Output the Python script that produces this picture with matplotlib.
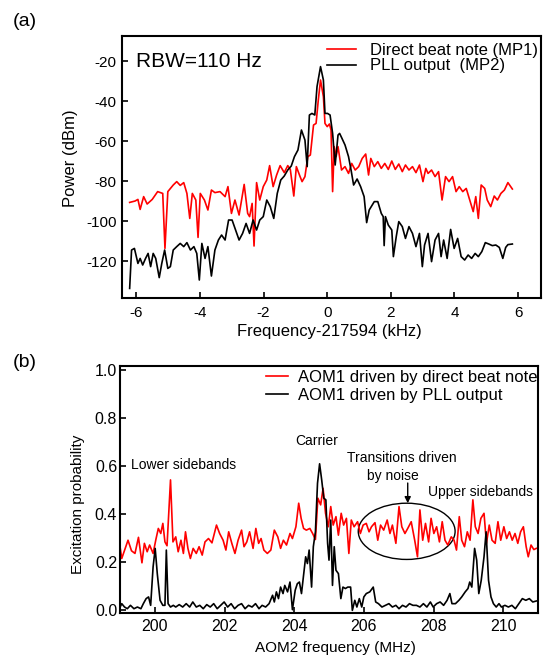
import matplotlib
matplotlib.use('Agg')
import matplotlib.pyplot as plt
from matplotlib.patches import Ellipse

plt.rcParams['font.family'] = ['Liberation Sans', 'DejaVu Sans']
plt.rcParams['axes.unicode_minus'] = False

# ---------------- Panel (a) data ----------------
red_a_f = [-6.21, -6.04, -5.95, -5.88, -5.77, -5.66, -5.50, -5.33, -5.17, -5.10, -5.01, -4.84, -4.73, -4.62,
           -4.51, -4.41, -4.32, -4.24, -4.13, -4.06, -3.99, -3.86, -3.75, -3.64, -3.53, -3.37, -3.21, -3.12,
           -3.01, -2.90, -2.77, -2.61, -2.50, -2.44, -2.36, -2.30, -2.22, -2.12, -2.01, -1.90, -1.81, -1.70,
           -1.59, -1.48, -1.35, -1.24, -1.16, -1.05, -0.97, -0.86, -0.79, -0.70, -0.61, -0.53, -0.43, -0.35,
           -0.28, -0.21, -0.12, -0.07, 0.00, 0.07, 0.12, 0.17, 0.22, 0.28, 0.34, 0.45, 0.56, 0.67, 0.77,
           0.88, 0.99, 1.10, 1.21, 1.30, 1.37, 1.48, 1.59, 1.70, 1.81, 1.92, 2.03, 2.14, 2.25, 2.36, 2.46,
           2.57, 2.68, 2.79, 2.90, 3.01, 3.10, 3.17, 3.28, 3.39, 3.50, 3.61, 3.72, 3.83, 3.94, 4.05, 4.15,
           4.26, 4.37, 4.48, 4.59, 4.67, 4.75, 4.84, 4.95, 5.03, 5.14, 5.25, 5.35, 5.46, 5.57, 5.68, 5.82]
red_a_p = [-90.7, -90.0, -89.2, -94.2, -87.8, -91.5, -89.2, -85.3, -86.2, -113.7, -85.3, -82.0, -80.3, -82.2,
           -80.8, -86.2, -98.7, -86.2, -89.5, -108.2, -86.2, -89.5, -94.5, -84.5, -85.8, -85.3, -87.8, -82.8,
           -96.2, -89.5, -97.0, -81.7, -96.2, -97.8, -91.2, -112.5, -80.8, -89.5, -82.8, -79.5, -72.3, -82.8,
           -77.0, -72.3, -75.8, -72.3, -74.2, -87.5, -72.8, -77.5, -80.3, -77.8, -67.8, -67.0, -52.0, -51.2,
           -39.5, -29.5, -37.8, -51.2, -52.8, -51.5, -54.5, -85.3, -62.8, -67.8, -62.8, -74.5, -72.8, -76.2, -71.2,
           -74.5, -72.8, -68.7, -66.5, -77.0, -68.7, -72.8, -70.3, -73.7, -71.2, -74.2, -70.0, -74.2, -71.5, -75.3, -72.0,
           -74.5, -72.8, -75.8, -72.0, -80.3, -73.7, -76.2, -74.5, -77.8, -75.3, -89.5, -77.8, -80.3, -77.8, -85.3, -82.8,
           -85.3, -83.7, -89.5, -95.3, -87.8, -98.7, -82.0, -83.7, -89.5, -92.8, -87.5, -89.5, -86.2, -84.5, -80.8, -84.0]

blk_a_f = [-6.21, -6.15, -6.06, -5.95, -5.88, -5.80, -5.71, -5.63, -5.55, -5.47, -5.39, -5.28, -5.20, -5.11,
           -5.01, -4.93, -4.84, -4.73, -4.62, -4.51, -4.41, -4.30, -4.19, -4.10, -4.02, -3.94, -3.84, -3.75,
           -3.64, -3.53, -3.42, -3.32, -3.21, -3.10, -2.99, -2.88, -2.77, -2.66, -2.55, -2.44, -2.33, -2.22,
           -2.12, -2.01, -1.90, -1.79, -1.68, -1.57, -1.46, -1.35, -1.24, -1.13, -1.03, -0.92, -0.81, -0.70,
           -0.63, -0.56, -0.48, -0.39, -0.32, -0.21, -0.12, -0.07, 0.01, 0.09, 0.17, 0.25, 0.34, 0.39, 0.45,
           0.56, 0.67, 0.75, 0.83, 0.94, 1.05, 1.16, 1.24, 1.32, 1.48, 1.59, 1.70, 1.76, 1.79, 1.83, 1.92,
           2.03, 2.08, 2.17, 2.25, 2.36, 2.46, 2.57, 2.68, 2.79, 2.90, 2.99, 3.06, 3.17, 3.28, 3.39, 3.50,
           3.58, 3.66, 3.77, 3.88, 3.99, 4.10, 4.21, 4.32, 4.43, 4.54, 4.65, 4.75, 4.86, 4.97, 5.08, 5.19,
           5.30, 5.41, 5.52, 5.61, 5.68, 5.82]
blk_a_p = [-133.7, -114.5, -113.7, -121.2, -118.7, -122.0, -118.7, -116.2, -122.8, -116.2, -118.7, -128.3, -121.2, -114.5,
           -123.7, -122.8, -114.5, -112.8, -111.2, -112.8, -110.8, -114.5, -112.8, -116.2, -129.5, -111.2, -118.7, -112.8,
           -127.5, -114.5, -109.5, -107.0, -109.5, -99.5, -99.5, -104.5, -109.5, -106.2, -101.2, -106.2, -99.5, -104.5,
           -99.5, -97.8, -89.5, -92.8, -98.7, -86.2, -79.5, -77.5, -74.5, -72.5, -67.8, -64.5, -54.5, -59.5,
           -72.8, -47.0, -46.2, -47.0, -32.8, -22.8, -29.5, -46.2, -46.2, -47.0, -56.2, -72.0, -57.0, -56.2, -58.2,
           -62.0, -67.8, -74.5, -82.0, -79.0, -82.8, -87.8, -100.8, -94.5, -90.3, -90.3, -96.2, -97.8, -112.3, -97.8, -102.0,
           -104.5, -117.8, -107.8, -100.3, -102.8, -108.7, -102.8, -106.2, -112.8, -106.2, -122.8, -112.0, -106.2, -120.3, -109.5, -106.2,
           -117.8, -109.5, -118.7, -104.2, -113.7, -108.7, -117.8, -119.5, -117.0, -118.7, -116.2, -117.8, -115.3, -110.8, -111.5, -112.3,
           -112.0, -113.2, -118.7, -113.2, -111.8, -111.5]

xticks_a = [-6, -4, -2, 0, 2, 4, 6]
yticks_a = [-120, -100, -80, -60, -40, -20]

# ---------------- Panel (b) data ----------------
red_b_f = [198.98, 199.05, 199.15, 199.23, 199.33, 199.43, 199.53, 199.63, 199.70, 199.78, 199.85, 199.95,
           200.03, 200.10, 200.17, 200.23, 200.29, 200.35, 200.45, 200.52, 200.60, 200.67, 200.75, 200.82,
           200.88, 200.95, 201.02, 201.10, 201.19, 201.27, 201.36, 201.44, 201.54, 201.64, 201.77, 201.86,
           201.96, 202.04, 202.12, 202.21, 202.30, 202.39, 202.49, 202.56, 202.64, 202.72, 202.82, 202.90,
           202.98, 203.05, 203.13, 203.23, 203.33, 203.43, 203.53, 203.61, 203.69, 203.78, 203.88, 203.95,
           204.05, 204.13, 204.20, 204.27, 204.35, 204.45, 204.53, 204.61, 204.68, 204.76, 204.83, 204.90,
           204.98, 205.05, 205.12, 205.20, 205.27, 205.35, 205.42, 205.50, 205.57, 205.64, 205.72, 205.82,
           205.90, 205.98, 206.07, 206.15, 206.22, 206.32, 206.40, 206.48, 206.57, 206.67, 206.75, 206.82,
           206.92, 207.01, 207.09, 207.18, 207.26, 207.36, 207.46, 207.54, 207.61, 207.69, 207.77, 207.86,
           207.93, 208.01, 208.09, 208.17, 208.25, 208.33, 208.41, 208.51, 208.59, 208.66, 208.74, 208.81,
           208.89, 208.97, 209.05, 209.13, 209.20, 209.28, 209.36, 209.45, 209.52, 209.60, 209.68, 209.77,
           209.85, 209.93, 210.02, 210.10, 210.18, 210.26, 210.34, 210.42, 210.50, 210.58, 210.66, 210.72,
           210.80, 210.88, 210.95]
red_b_p = [0.285, 0.216, 0.258, 0.292, 0.248, 0.237, 0.304, 0.198, 0.279, 0.244, 0.272, 0.237,
           0.295, 0.341, 0.320, 0.362, 0.285, 0.269, 0.543, 0.285, 0.306, 0.244, 0.292, 0.237,
           0.327, 0.258, 0.216, 0.258, 0.237, 0.265, 0.230, 0.285, 0.299, 0.281, 0.355, 0.320,
           0.292, 0.251, 0.327, 0.279, 0.237, 0.292, 0.334, 0.265, 0.285, 0.327, 0.258, 0.341,
           0.279, 0.299, 0.251, 0.237, 0.251, 0.334, 0.306, 0.258, 0.292, 0.272, 0.320, 0.299,
           0.348, 0.446, 0.383, 0.341, 0.334, 0.341, 0.320, 0.295, 0.467, 0.439, 0.508, 0.404,
           0.348, 0.432, 0.355, 0.390, 0.313, 0.404, 0.355, 0.383, 0.237, 0.376, 0.348, 0.369,
           0.320, 0.355, 0.362, 0.327, 0.348, 0.365, 0.292, 0.355, 0.334, 0.376, 0.320, 0.355,
           0.279, 0.432, 0.348, 0.320, 0.341, 0.369, 0.292, 0.223, 0.418, 0.292, 0.362, 0.285,
           0.383, 0.320, 0.348, 0.285, 0.369, 0.292, 0.272, 0.306, 0.292, 0.251, 0.390, 0.292,
           0.265, 0.327, 0.292, 0.460, 0.348, 0.320, 0.383, 0.404, 0.279, 0.355, 0.292, 0.279,
           0.369, 0.292, 0.348, 0.299, 0.327, 0.292, 0.320, 0.279, 0.327, 0.348, 0.265, 0.223,
           0.272, 0.253, 0.258]

blk_b_f = [198.98, 199.05, 199.13, 199.21, 199.30, 199.40, 199.50, 199.60, 199.67, 199.75, 199.82, 199.88,
           199.95, 200.01, 200.07, 200.15, 200.23, 200.29, 200.33, 200.38, 200.45, 200.53, 200.60, 200.70,
           200.80, 200.90, 201.00, 201.09, 201.19, 201.29, 201.39, 201.49, 201.59, 201.69, 201.79, 201.89,
           201.99, 202.09, 202.19, 202.29, 202.39, 202.49, 202.59, 202.69, 202.79, 202.89, 202.99, 203.08,
           203.18, 203.28, 203.38, 203.43, 203.49, 203.55, 203.61, 203.68, 203.73, 203.81, 203.88, 203.95,
           204.03, 204.09, 204.15, 204.21, 204.27, 204.33, 204.38, 204.43, 204.50, 204.55, 204.61, 204.67,
           204.73, 204.79, 204.85, 204.91, 204.96, 205.00, 205.05, 205.10, 205.15, 205.20, 205.27, 205.34,
           205.40, 205.47, 205.54, 205.62, 205.67, 205.74, 205.80, 205.87, 205.94, 206.00, 206.07, 206.17,
           206.27, 206.34, 206.42, 206.52, 206.62, 206.72, 206.82, 206.92, 207.01, 207.11, 207.21, 207.31,
           207.41, 207.51, 207.61, 207.71, 207.81, 207.91, 207.99, 208.09, 208.19, 208.29, 208.39, 208.47,
           208.53, 208.63, 208.73, 208.81, 208.91, 208.99, 209.04, 209.10, 209.18, 209.24, 209.30, 209.37,
           209.45, 209.51, 209.58, 209.65, 209.72, 209.80, 209.88, 209.95, 210.05, 210.15, 210.25, 210.35,
           210.45, 210.55, 210.65, 210.75, 210.85, 210.95]
blk_b_p = [0.007, 0.028, 0.014, 0.007, 0.021, 0.007, 0.014, 0.007, 0.028, 0.049, 0.056, 0.021,
           0.181, 0.258, 0.153, 0.042, 0.021, 0.021, 0.251, 0.028, 0.014, 0.021, 0.014, 0.024,
           0.014, 0.028, 0.014, 0.035, 0.014, 0.021, 0.007, 0.024, 0.014, 0.028, 0.007, 0.021,
           0.035, 0.014, 0.028, 0.007, 0.021, 0.028, 0.007, 0.021, 0.014, 0.028, 0.007, 0.021,
           0.014, 0.028, 0.063, 0.035, 0.077, 0.049, 0.097, 0.070, 0.104, 0.077, 0.118, 0.003,
           0.084, 0.111, 0.118, 0.070, 0.146, 0.223, 0.195, 0.251, 0.097, 0.265, 0.327, 0.529,
           0.610, 0.543, 0.467, 0.460, 0.279, 0.209, 0.376, 0.104, 0.265, 0.167, 0.153, 0.049,
           0.097, 0.091, 0.097, 0.097, 0.000, 0.042, 0.014, 0.049, 0.014, 0.056, 0.070, 0.077,
           0.097, 0.035, 0.028, 0.014, 0.021, 0.028, 0.014, 0.021, 0.007, 0.021, 0.014, 0.028,
           0.021, 0.021, 0.014, 0.028, 0.014, 0.035, 0.014, 0.028, 0.035, 0.021, 0.042, 0.070,
           0.028, 0.028, 0.042, 0.056, 0.077, 0.091, 0.118, 0.097, 0.258, 0.209, 0.070, 0.125,
           0.223, 0.327, 0.125, 0.056, 0.028, 0.014, 0.028, 0.014, 0.021, 0.014, 0.021, 0.007,
           0.028, 0.049, 0.042, 0.049, 0.035, 0.039]

xticks_b = [200, 202, 204, 206, 208, 210]
yticks_b = [0.0, 0.2, 0.4, 0.6, 0.8, 1.0]

RED = '#ff0000'

fig = plt.figure(figsize=(5.43, 6.56), dpi=100)
axa = fig.add_axes([0.2247, 0.5457, 0.7716, 0.3994])
axb = fig.add_axes([0.2210, 0.0655, 0.7698, 0.3766])

for ax in (axa, axb):
    for s in ax.spines.values():
        s.set_linewidth(1.5)

# ---- Panel (a)
axa.plot(red_a_f, red_a_p, color=RED, lw=1.2, label='Direct beat note (MP1)')
axa.plot(blk_a_f, blk_a_p, color='black', lw=1.2, label='PLL output  (MP2)')
axa.set_xlim(-6.45, 6.72)
axa.set_ylim(-138.5, -7.5)
axa.set_xticks(xticks_a)
axa.set_yticks(yticks_a)
axa.tick_params(direction='in', length=4, width=1.2, labelsize=11)
axa.tick_params(axis='x', pad=6)
axa.tick_params(axis='y', pad=4)
axa.set_xlabel('Frequency-217594 (kHz)', fontsize=12)
axa.set_ylabel('Power (dBm)', fontsize=12)
axa.xaxis.set_label_coords(0.496, -0.10)
axa.yaxis.set_label_coords(-0.105, 0.532)
axa.text(-6.0, -20, 'RBW=110 Hz', fontsize=15, va='center', ha='left')
axa.legend(loc='upper left', bbox_to_anchor=(0.49, 0.975), frameon=False, fontsize=12,
           handlelength=1.7, handletextpad=0.85, labelspacing=0.05, borderpad=0, borderaxespad=0)
fig.text(25 / 543, 1 - 21 / 656, '(a)', fontsize=14, ha='center', va='center')

# ---- Panel (b)
axb.plot(red_b_f, red_b_p, color=RED, lw=1.2, label='AOM1 driven by direct beat note')
axb.plot(blk_b_f, blk_b_p, color='black', lw=1.2, label='AOM1 driven by PLL output')
axb.set_xlim(199, 211)
axb.set_ylim(-0.011, 1.017)
axb.set_xticks(xticks_b)
axb.set_yticks(yticks_b)
axb.set_yticklabels(['0.0', '0.2', '0.4', '0.6', '0.8', '1.0'])
axb.tick_params(direction='in', length=4, width=1.2, labelsize=11.5)
axb.tick_params(axis='x', pad=4)
axb.tick_params(axis='y', pad=2)
axb.set_xlabel('AOM2 frequency (MHz)', fontsize=11)
axb.set_ylabel('Excitation probability', fontsize=11)
axb.xaxis.set_label_coords(0.516, -0.113)
axb.yaxis.set_label_coords(-0.084, 0.44)
axb.legend(loc='upper left', bbox_to_anchor=(0.349, 0.985), frameon=False, fontsize=12,
           handlelength=1.3, handletextpad=0.65, labelspacing=0.2, borderpad=0, borderaxespad=0)

axb.text(199.32, 0.603, 'Lower sidebands', fontsize=10, ha='left', va='center')
axb.text(204.66, 0.706, 'Carrier', fontsize=10, ha='center', va='center')
axb.text(207.08, 0.634, 'Transitions driven', fontsize=10, ha='center', va='center')
axb.text(206.82, 0.560, 'by noise', fontsize=10, ha='center', va='center')
axb.text(207.84, 0.494, 'Upper sidebands', fontsize=10, ha='left', va='center')
axb.annotate('', xy=(207.26, 0.446), xytext=(207.26, 0.530),
             arrowprops=dict(arrowstyle='-|>', color='black', lw=1.0, mutation_scale=9,
                             shrinkA=0, shrinkB=0))
axb.add_patch(Ellipse((207.23, 0.329), 2.78, 0.234, fill=False, edgecolor='black', lw=1.0))
fig.text(25 / 543, 1 - 362 / 656, '(b)', fontsize=14, ha='center', va='center')

fig.savefig('out.png', dpi=100)
